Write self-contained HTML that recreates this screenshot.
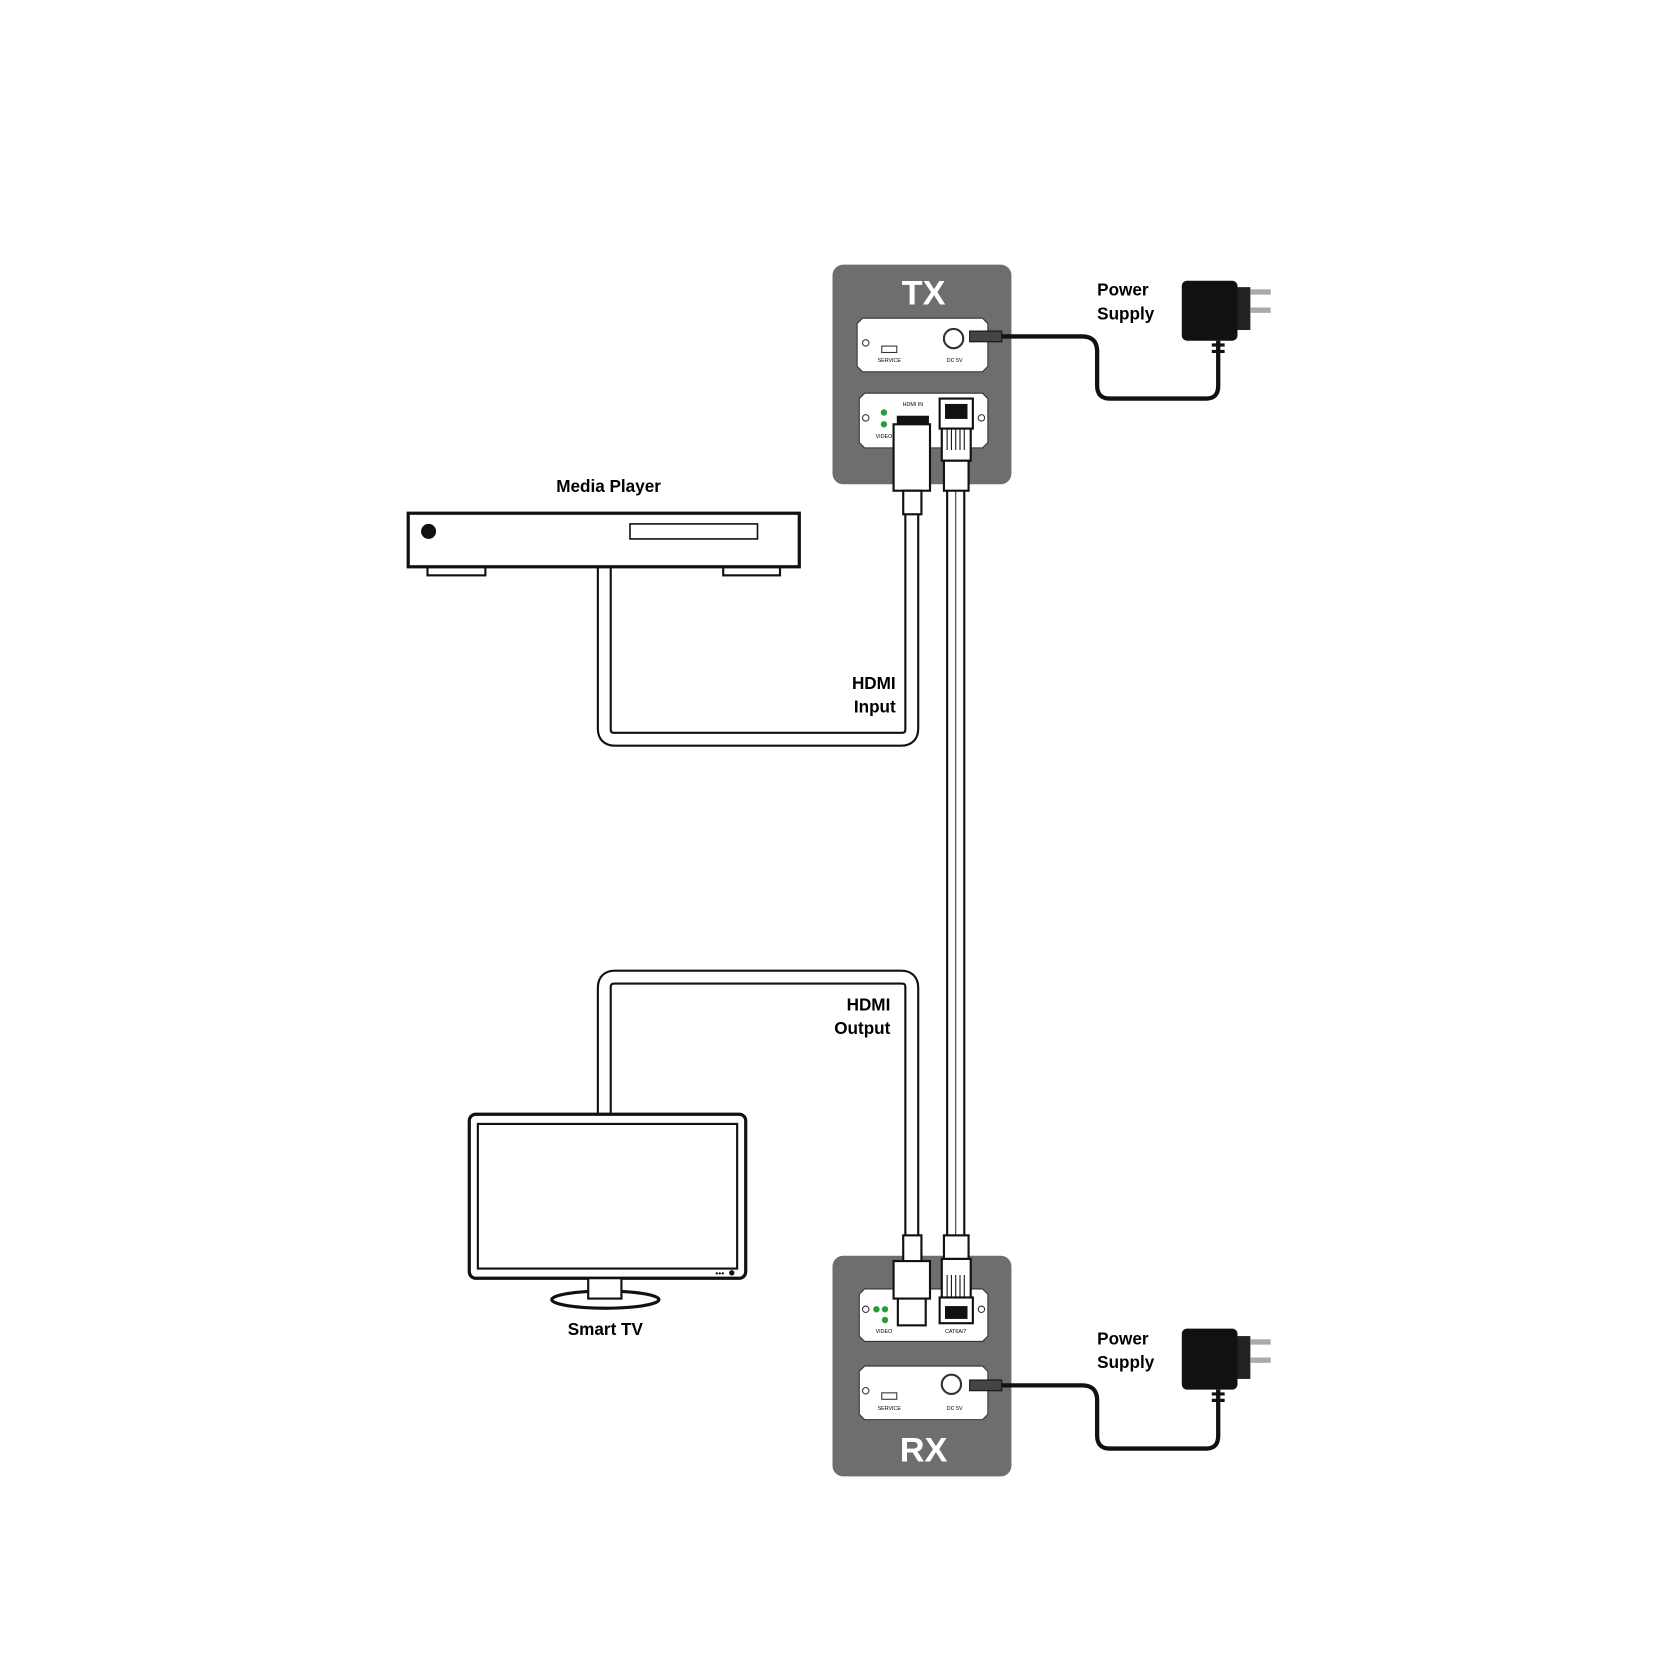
<!DOCTYPE html>
<html><head><style>html,body{margin:0;padding:0;background:#fff}svg{display:block}</style></head>
<body>
<svg width="1680" height="1680" viewBox="0 0 1568 1568" xmlns="http://www.w3.org/2000/svg" font-family="Liberation Sans, sans-serif">
<rect width="1568" height="1568" fill="#fff"/>
<!-- HDMI input cable -->
<path d="M851 470 V680 Q851 690 841 690 H574 Q564 690 564 680 V528" fill="none" stroke="#111" stroke-width="14"/>
<path d="M851 470 V680 Q851 690 841 690 H574 Q564 690 564 680 V528" fill="none" stroke="#fff" stroke-width="10"/>
<!-- HDMI output cable -->
<path d="M851 1160 V922 Q851 912 841 912 H574 Q564 912 564 922 V1042" fill="none" stroke="#111" stroke-width="14"/>
<path d="M851 1160 V922 Q851 912 841 912 H574 Q564 912 564 922 V1042" fill="none" stroke="#fff" stroke-width="10"/>
<!-- Cat cable -->
<line x1="892" y1="450" x2="892" y2="1160" stroke="#111" stroke-width="18"/>
<line x1="892" y1="450" x2="892" y2="1160" stroke="#fff" stroke-width="14"/>
<line x1="892" y1="450" x2="892" y2="1160" stroke="#333" stroke-width="1"/>

<!-- Media player -->
<text x="568" y="459" font-size="16" font-weight="bold" text-anchor="middle">Media Player</text>
<rect x="399" y="527" width="54" height="10" fill="#fff" stroke="#111" stroke-width="2"/>
<rect x="675" y="527" width="53" height="10" fill="#fff" stroke="#111" stroke-width="2"/>
<rect x="381" y="479" width="365" height="50" fill="#fff" stroke="#111" stroke-width="3"/>
<circle cx="400" cy="496" r="7" fill="#111"/>
<rect x="588" y="489" width="119" height="14" fill="#fff" stroke="#111" stroke-width="1.5"/>
<text x="836" y="643" font-size="16" font-weight="bold" text-anchor="end">HDMI</text>
<text x="836" y="665" font-size="16" font-weight="bold" text-anchor="end">Input</text>
<text x="831" y="943" font-size="16" font-weight="bold" text-anchor="end">HDMI</text>
<text x="831" y="965" font-size="16" font-weight="bold" text-anchor="end">Output</text>

<!-- TV -->
<rect x="438" y="1040" width="258" height="153" rx="6" fill="#fff" stroke="#111" stroke-width="3"/>
<rect x="446" y="1049" width="242" height="135" fill="#fff" stroke="#111" stroke-width="2"/>
<circle cx="683" cy="1188" r="2.5" fill="#111"/>
<text x="676" y="1191" font-size="8" text-anchor="end">•••</text>
<ellipse cx="565" cy="1213" rx="50" ry="8" fill="#fff" stroke="#111" stroke-width="3"/>
<rect x="549" y="1193" width="31" height="19" fill="#fff" stroke="#111" stroke-width="2"/>
<text x="565" y="1246" font-size="16" font-weight="bold" text-anchor="middle">Smart TV</text>

<!-- TX box -->
<rect x="777" y="247" width="167" height="205" rx="10" fill="#6d6e70"/>
<text x="862" y="284" font-size="32" font-weight="bold" fill="#fff" text-anchor="middle">TX</text>
<path d="M805 297 H917 L922 302 V342 L917 347 H805 L800 342 V302 Z" fill="#fff" stroke="#333"/>
<circle cx="808" cy="320" r="3" fill="none" stroke="#333"/>
<rect x="823" y="323" width="14" height="6" fill="none" stroke="#333"/>
<text x="830" y="338" font-size="5" text-anchor="middle">SERVICE</text>
<circle cx="890" cy="316" r="9" fill="#fff" stroke="#333" stroke-width="2"/>
<text x="891" y="338" font-size="5" text-anchor="middle">DC 5V</text>
<path d="M807 367 H917 L922 372 V413 L917 418 H807 L802 413 V372 Z" fill="#fff" stroke="#333"/>
<circle cx="808" cy="390" r="3" fill="none" stroke="#333"/>
<circle cx="916" cy="390" r="3" fill="none" stroke="#333"/>
<circle cx="825" cy="385" r="3" fill="#2a9a3a"/><circle cx="825" cy="396" r="3" fill="#2a9a3a"/>
<text x="825" y="409" font-size="5" text-anchor="middle">VIDEO</text>
<text x="852" y="379" font-size="5" text-anchor="middle">HDMI IN</text>
<rect x="837" y="388" width="30" height="8" fill="#111"/>
<rect x="834" y="396" width="34" height="62" fill="#fff" stroke="#111" stroke-width="2"/>
<rect x="843" y="458" width="17" height="22" fill="#fff" stroke="#111" stroke-width="2"/>
<rect x="877" y="372" width="31" height="28" fill="#fff" stroke="#111" stroke-width="2"/>
<rect x="882" y="377" width="21" height="14" fill="#111"/>
<rect x="879" y="400" width="27" height="30" fill="#fff" stroke="#111" stroke-width="2"/>
<path d="M884 400 V420 M888 400 V420 M892 400 V420 M896 400 V420 M900 400 V420" stroke="#111"/>
<rect x="881" y="430" width="23" height="28" fill="#fff" stroke="#111" stroke-width="2"/>
<!-- TX power -->
<rect x="905" y="309" width="30" height="10" fill="#444" stroke="#111"/>
<path d="M935 314 H1010 Q1024 314 1024 328 V360 Q1024 372 1036 372 H1126 Q1137 372 1137 360 V318" fill="none" stroke="#111" stroke-width="4"/>
<path d="M1131 322 H1143 M1131 328 H1143" stroke="#111" stroke-width="3"/>
<rect x="1103" y="262" width="52" height="56" rx="5" fill="#111"/>
<rect x="1155" y="268" width="12" height="40" fill="#222"/>
<rect x="1167" y="270" width="19" height="5" fill="#aaa"/><rect x="1167" y="287" width="19" height="5" fill="#aaa"/>
<text x="1024" y="276" font-size="16" font-weight="bold">Power</text>
<text x="1024" y="298" font-size="16" font-weight="bold">Supply</text>

<!-- RX box -->
<rect x="777" y="1172" width="167" height="206" rx="10" fill="#6d6e70"/>
<text x="862" y="1364" font-size="32" font-weight="bold" fill="#fff" text-anchor="middle">RX</text>
<path d="M807 1203 H917 L922 1208 V1247 L917 1252 H807 L802 1247 V1208 Z" fill="#fff" stroke="#333"/>
<circle cx="808" cy="1222" r="3" fill="none" stroke="#333"/>
<circle cx="916" cy="1222" r="3" fill="none" stroke="#333"/>
<circle cx="818" cy="1222" r="3" fill="#2a9a3a"/><circle cx="826" cy="1222" r="3" fill="#2a9a3a"/><circle cx="826" cy="1232" r="3" fill="#2a9a3a"/>
<text x="825" y="1244" font-size="5" text-anchor="middle">VIDEO</text>
<text x="892" y="1244" font-size="5" text-anchor="middle">CAT6A/7</text>
<rect x="843" y="1153" width="17" height="24" fill="#fff" stroke="#111" stroke-width="2"/>
<rect x="834" y="1177" width="34" height="35" fill="#fff" stroke="#111" stroke-width="2"/>
<rect x="838" y="1212" width="26" height="25" fill="#fff" stroke="#111" stroke-width="2"/>
<rect x="881" y="1153" width="23" height="22" fill="#fff" stroke="#111" stroke-width="2"/>
<rect x="879" y="1175" width="27" height="36" fill="#fff" stroke="#111" stroke-width="2"/>
<path d="M884 1190 V1211 M888 1190 V1211 M892 1190 V1211 M896 1190 V1211 M900 1190 V1211" stroke="#111"/>
<rect x="877" y="1211" width="31" height="24" fill="#fff" stroke="#111" stroke-width="2"/>
<rect x="882" y="1219" width="21" height="12" fill="#111"/>
<path d="M807 1275 H917 L922 1280 V1320 L917 1325 H807 L802 1320 V1280 Z" fill="#fff" stroke="#333"/>
<circle cx="808" cy="1298" r="3" fill="none" stroke="#333"/>
<rect x="823" y="1300" width="14" height="6" fill="none" stroke="#333"/>
<text x="830" y="1316" font-size="5" text-anchor="middle">SERVICE</text>
<circle cx="888" cy="1292" r="9" fill="#fff" stroke="#333" stroke-width="2"/>
<text x="891" y="1316" font-size="5" text-anchor="middle">DC 5V</text>
<rect x="905" y="1288" width="30" height="10" fill="#444" stroke="#111"/>
<path d="M935 1293 H1010 Q1024 1293 1024 1307 V1340 Q1024 1352 1036 1352 H1126 Q1137 1352 1137 1340 V1297" fill="none" stroke="#111" stroke-width="4"/>
<path d="M1131 1301 H1143 M1131 1307 H1143" stroke="#111" stroke-width="3"/>
<rect x="1103" y="1240" width="52" height="57" rx="5" fill="#111"/>
<rect x="1155" y="1247" width="12" height="40" fill="#222"/>
<rect x="1167" y="1250" width="19" height="5" fill="#aaa"/><rect x="1167" y="1267" width="19" height="5" fill="#aaa"/>
<text x="1024" y="1255" font-size="16" font-weight="bold">Power</text>
<text x="1024" y="1277" font-size="16" font-weight="bold">Supply</text>
</svg>
</body></html>
